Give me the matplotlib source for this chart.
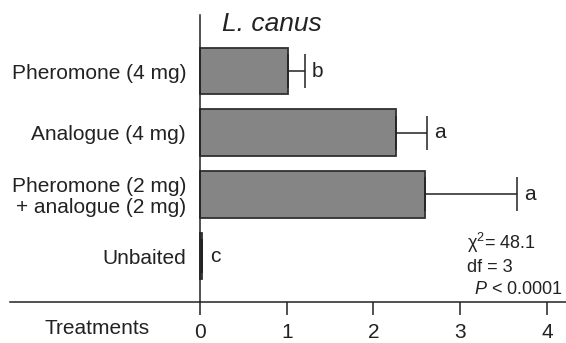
import numpy as np
import matplotlib
matplotlib.use("Agg")
import matplotlib.pyplot as plt

plt.rcParams['font.family'] = ['Liberation Sans', 'DejaVu Sans']
plt.rcParams['mathtext.fontset'] = 'custom'
plt.rcParams['mathtext.rm'] = 'Liberation Sans'
plt.rcParams['mathtext.it'] = 'Liberation Sans:italic'

# Treatments, top to bottom
treatments = ['Pheromone (4 mg)', 'Analogue (4 mg)',
              'Pheromone (2 mg)\n+ analogue (2 mg)', 'Unbaited']
means = [1.01, 2.26, 2.60, 0.02]
errors = [0.20, 0.36, 1.06, 0.0]
letters = ['b', 'a', 'a', 'c']
x_ticks = [0, 1, 2, 3, 4]

ink = '#222222'
ypos = np.arange(len(treatments))[::-1]

fig = plt.figure(figsize=(5.66, 3.43), dpi=100)
ax = fig.add_axes([10 / 566, 41 / 343, 556 / 566, 287 / 343])

ax.barh(ypos, means, height=0.76, color='#858585', edgecolor='#303030',
        linewidth=1.3, zorder=2)
ax.errorbar(means, ypos, xerr=[np.zeros(len(means)), errors], fmt='none',
            ecolor=ink, elinewidth=1.1, capsize=12, capthick=1.1, zorder=3)

# significance letters to the right of each error bar
for m, e, y, l in zip(means, errors, ypos, letters):
    ax.text(m + e + 0.08 if e > 0 else 0.12, y, l, fontsize=15, color=ink,
            ha='left', va='center')

ax.set_xlim(-2.19, 4.22)
ax.set_ylim(-0.745, 3.908)

for s in ['top', 'right']:
    ax.spines[s].set_visible(False)
ax.spines['left'].set_position(('data', 0))
ax.spines['left'].set_linewidth(1.1)
ax.spines['bottom'].set_linewidth(1.1)
ax.spines['left'].set_color(ink)
ax.spines['bottom'].set_color(ink)

ax.set_xticks(x_ticks)
ax.set_xticklabels([str(t) for t in x_ticks])
ax.tick_params(axis='x', direction='out', length=9, width=1.1, pad=6,
               labelsize=15, colors=ink)
ax.set_yticks(ypos)
ax.set_yticklabels(treatments, linespacing=1.1)
ax.tick_params(axis='y', length=0, pad=10, labelsize=15, colors=ink)

ax.text(0.25, 3.76, 'L. canus', fontsize=19, style='italic', color=ink,
        ha='left', va='center')

# test statistics
ax.text(3.08, 0.21, 'χ$^2$= 48.1', fontsize=13, color=ink, ha='left', va='center')
ax.text(3.08, -0.18, 'df = 3', fontsize=13, color=ink, ha='left', va='center')
ax.text(4.18, -0.55, '$\\mathit{P}$ < 0.0001', fontsize=13, color=ink,
        ha='right', va='center')

fig.text(97 / 566, 1 - 328 / 343, 'Treatments', fontsize=15, color=ink,
         ha='center', va='center')

fig.savefig('out.png', dpi=100)
